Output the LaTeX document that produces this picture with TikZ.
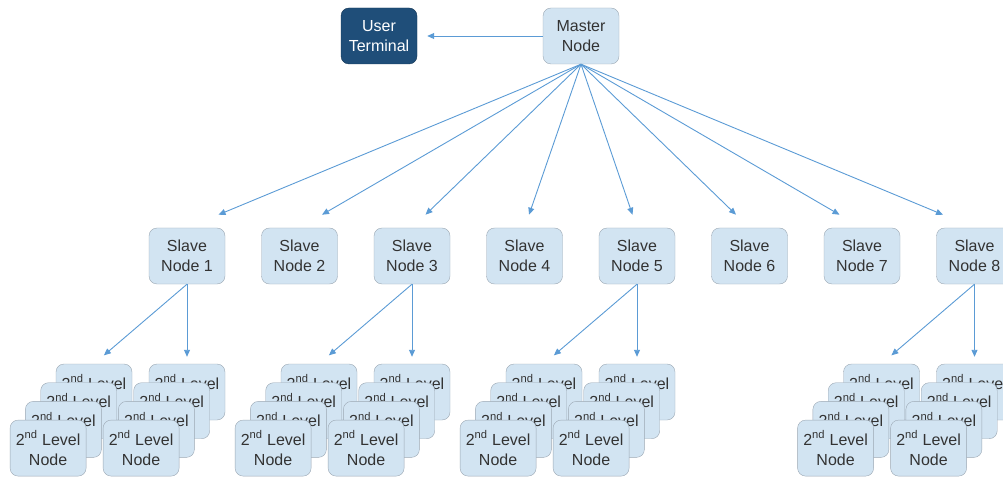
\documentclass[tikz,border=0pt]{standalone}
\usepackage{fontspec}
\setmainfont{Liberation Sans}
\usetikzlibrary{calc,arrows.meta}
\definecolor{boxfill}{HTML}{D2E4F2}
\definecolor{boxline}{HTML}{9BA7B3}
\definecolor{termfill}{HTML}{1F4E79}
\definecolor{linkblue}{HTML}{5B9BD5}

\begin{document}
\begin{tikzpicture}[x=1pt,y=-1pt,
    box/.style={draw=boxline,fill=boxfill,rounded corners=8pt,minimum width=76pt,
        minimum height=56pt,align=center,inner sep=0pt,text=black!80,
        font=\fontsize{16}{20}\selectfont},
    term/.style={box,draw=termfill!70!black,fill=termfill,text=white},
    link/.style={draw=linkblue,line width=0.9pt,-{Triangle[length=7pt,width=6pt]}}
]
\useasboundingbox (0,0) rectangle (1003,478);
\node[term] (U) at (379,36) {User\\Terminal};
\node[box] (M) at (581,36) {Master\\Node};
\draw[link,shorten >=10pt] (M.west) -- (U.east);
\foreach \i [evaluate=\i as \x using {187+112.5*(\i-1)}] in {1,...,8}{
    \node[box] (S\i) at (\x,256) {Slave\\Node \i};
    \coordinate (A\i) at ($(M.south)!.92!(S\i.north)$);
    \draw[link] (M.south) -- (A\i);
}
\foreach \i in {1,3,5,8}{
    \foreach \k in {0,...,3}
        \node[box] (L\i-\k) at ($(S\i)+(-93-15.3*\k,136+18.7*\k)$) {2\textsuperscript{nd} Level\\Node};
    \foreach \k in {0,...,3}
        \node[box] (R\i-\k) at ($(S\i)+(-15.3*\k,136+18.7*\k)$) {2\textsuperscript{nd} Level\\Node};
    \draw[link,shorten >=13pt] (S\i.south) -- (L\i-0.north);
    \draw[link,shorten >=7pt] (S\i.south) -- (R\i-0.north);
}
\end{tikzpicture}
\end{document}
